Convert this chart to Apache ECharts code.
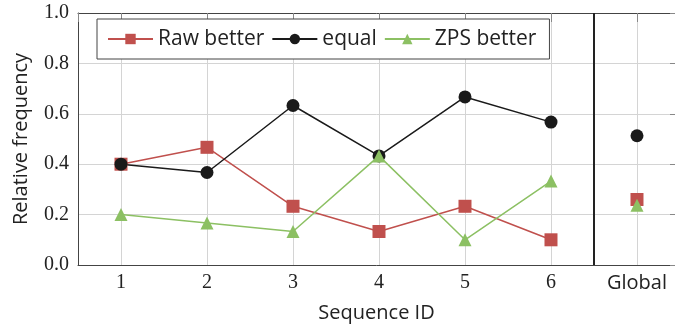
<!DOCTYPE html>
<html>
<head>
<meta charset="utf-8">
<script src="https://cdn.jsdelivr.net/npm/echarts@6/dist/echarts.min.js"></script>
<style>
  html, body { margin: 0; padding: 0; background: #fff; }
  #chart { width: 675px; height: 328px; }
</style>
</head>
<body>
<div id="chart"></div>
<script>
// Category labels along the x axis (positions 1..7)
const xLabels = ['1', '2', '3', '4', '5', '6', 'Global'];

// Per-sequence relative frequencies (sequences 1..6)
const rawBetter = [0.400, 0.467, 0.233, 0.133, 0.233, 0.100];
const equal     = [0.400, 0.367, 0.633, 0.433, 0.667, 0.567];
const zpsBetter = [0.200, 0.167, 0.133, 0.433, 0.100, 0.333];

// Aggregated over all sequences
const rawGlobal = 0.260;
const equalGlobal = 0.513;
const zpsGlobal = 0.237;

const RED = '#c0504d';
const BLACK = '#1a1a1a';
const GREEN = '#8cc063';
const SANS = 'Open Sans';
const SERIF = 'Liberation Serif';

const toPoints = arr => arr.map((v, i) => [i + 1, v]);
const globalPos = xLabels.length;

const lineSeries = (name, values, color, symbol, size) => ({
  name, type: 'line', data: toPoints(values),
  symbol, symbolSize: size,
  lineStyle: { color, width: 1.5 },
  itemStyle: { color, opacity: 1 },
  z: 3
});
const globalSeries = (name, value, color, symbol, size) => ({
  name, type: 'scatter', data: [[globalPos, value]],
  symbol, symbolSize: size,
  itemStyle: { color, opacity: 1 },
  z: 3
});

// x range runs half a step left of "1" and is cut at the right page edge
const X_MIN = 0.5, X_MAX = 7.442;

const chart = echarts.init(document.getElementById('chart'), null, { renderer: 'canvas' });
chart.setOption({
  animation: false,
  backgroundColor: '#fff',
  grid: { left: 78, top: 13, right: 0, height: 253 },
  legend: {
    data: ['Raw better', 'equal', 'ZPS better'],
    left: 97, top: 19,
    padding: [9, 13, 9, 10],
    itemWidth: 45, itemHeight: 13, itemGap: 7,
    backgroundColor: '#fff',
    borderColor: '#444', borderWidth: 1,
    textStyle: { fontFamily: SANS, fontSize: 21, lineHeight: 22, color: '#222' }
  },
  xAxis: [{
    type: 'value', min: X_MIN, max: X_MAX, minInterval: 1, maxInterval: 1,
    name: 'Sequence ID', nameLocation: 'middle', nameGap: 38,
    nameTextStyle: { fontFamily: SANS, fontSize: 20, color: '#222' },
    axisLine: { show: true, onZero: false, lineStyle: { color: '#444', width: 1 } },
    axisTick: { show: false },
    splitLine: { show: true, lineStyle: { color: '#d4d4d4', width: 1 } },
    axisLabel: {
      margin: 8, fontFamily: SERIF, fontSize: 20, color: '#222',
      showMinLabel: false, showMaxLabel: false,
      formatter: v => {
        if (!Number.isInteger(v)) return '';
        const s = xLabels[v - 1];
        return /^\d+$/.test(s) ? s : '{s|' + s + '}';
      },
      rich: { s: { fontFamily: SANS, fontSize: 20, color: '#222' } }
    }
  }, {
    type: 'value', position: 'top', min: X_MIN, max: X_MAX, minInterval: 1, maxInterval: 1,
    axisLine: { show: true, onZero: false, lineStyle: { color: '#444', width: 1 } },
    axisTick: { show: true, inside: true, length: 9, lineStyle: { color: '#888' } },
    axisLabel: { show: false }, splitLine: { show: false }
  }],
  yAxis: [{
    type: 'value', min: 0, max: 1, interval: 0.2,
    name: 'Relative frequency', nameLocation: 'middle', nameGap: 47,
    nameTextStyle: { fontFamily: SANS, fontSize: 20, color: '#222' },
    axisLine: { show: true, lineStyle: { color: '#444', width: 1 } },
    axisTick: { show: false },
    splitLine: { show: true, lineStyle: { color: '#d4d4d4', width: 1 } },
    axisLabel: {
      margin: 9, fontFamily: SERIF, fontSize: 20, color: '#222',
      formatter: v => v.toFixed(1)
    }
  }, {
    type: 'value', position: 'right', min: 0, max: 1, interval: 0.2,
    axisLine: { show: false },
    axisTick: { show: true, inside: true, length: 5, lineStyle: { color: '#888' } },
    axisLabel: { show: false }, splitLine: { show: false }
  }],
  series: [
    Object.assign(lineSeries('Raw better', rawBetter, RED, 'rect', 13), {
      markLine: {
        silent: true, symbol: ['none', 'none'], label: { show: false },
        lineStyle: { color: '#222', width: 2, type: 'solid' },
        data: [{ xAxis: 6.5 }]
      }
    }),
    lineSeries('equal', equal, BLACK, 'circle', 13),
    lineSeries('ZPS better', zpsBetter, GREEN, 'triangle', 13),
    globalSeries('Raw better', rawGlobal, RED, 'rect', 13),
    globalSeries('equal', equalGlobal, BLACK, 'circle', 13),
    globalSeries('ZPS better', zpsGlobal, GREEN, 'triangle', 13)
  ]
});
</script>
</body>
</html>
